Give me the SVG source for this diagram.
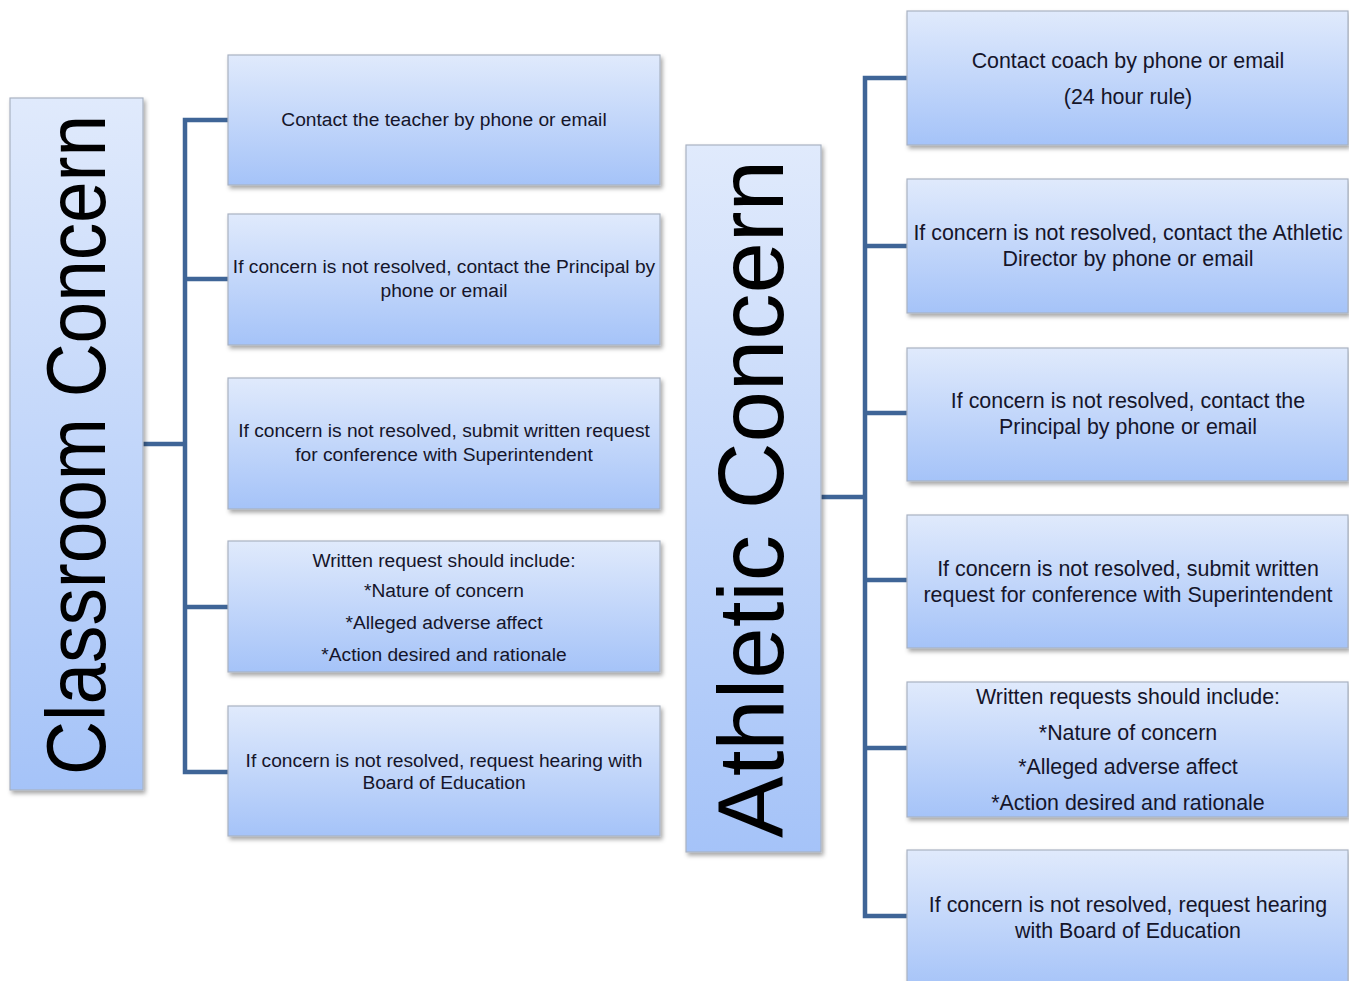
<svg xmlns="http://www.w3.org/2000/svg" width="1349" height="981" viewBox="0 0 1349 981">
<defs>
<linearGradient id="g" x1="0" y1="0" x2="0" y2="1">
<stop offset="0" stop-color="#e0eafc"/>
<stop offset="1" stop-color="#a5c3f8"/>
</linearGradient>
<filter id="sh" x="-5%" y="-5%" width="110%" height="115%">
<feDropShadow dx="2" dy="3" stdDeviation="2" flood-color="#000" flood-opacity="0.35"/>
</filter>
</defs>
<style>
.box{fill:url(#g);stroke:#a9b2c2;stroke-width:1.2;filter:url(#sh)}
.t{font-family:"Liberation Sans",Arial,sans-serif;fill:#15152a;text-anchor:middle}
.l{font-size:19.2px}
.r{font-size:21.4px}
.title{font-family:"Liberation Sans",Arial,sans-serif;fill:#000;text-anchor:middle}
.c{fill:none;stroke:#3f6597;stroke-width:4.5;stroke-linejoin:miter}
</style>
<rect width="1349" height="981" fill="#fff"/>
<g id="connectors">
<path class="c" d="M143 444H185M228 120H185V772H228M185 279H228M185 607H228"/>
<path class="c" d="M821 497H865M907 78H865V916H907M865 246H907M865 413H907M865 580H907M865 748H907"/>
</g>
<g id="classroom">
<rect class="box" x="10" y="98" width="133" height="692"/>
<text class="title" font-size="84" textLength="660" lengthAdjust="spacingAndGlyphs" transform="translate(105 445) rotate(-90)">Classroom Concern</text>
</g>
<g id="c1">
<rect class="box" x="228" y="55" width="432" height="130"/>
<text class="t l" x="444" y="126">Contact the teacher by phone or email</text>
</g>
<g id="c2">
<rect class="box" x="228" y="214" width="432" height="131"/>
<text class="t l" x="444" y="273">If concern is not resolved, contact the Principal by</text>
<text class="t l" x="444" y="297">phone or email</text>
</g>
<g id="c3">
<rect class="box" x="228" y="378" width="432" height="131"/>
<text class="t l" x="444" y="437">If concern is not resolved, submit written request</text>
<text class="t l" x="444" y="461">for conference with Superintendent</text>
</g>
<g id="c4">
<rect class="box" x="228" y="541" width="432" height="131"/>
<text class="t l" x="444" y="567">Written request should include:</text>
<text class="t l" x="444" y="597">*Nature of concern</text>
<text class="t l" x="444" y="629">*Alleged adverse affect</text>
<text class="t l" x="444" y="661">*Action desired and rationale</text>
</g>
<g id="c5">
<rect class="box" x="228" y="706" width="432" height="130"/>
<text class="t l" x="444" y="767">If concern is not resolved, request hearing with</text>
<text class="t l" x="444" y="789">Board of Education</text>
</g>
<g id="athletic">
<rect class="box" x="686" y="145" width="135" height="707"/>
<text class="title" font-size="92" textLength="678" lengthAdjust="spacingAndGlyphs" transform="translate(783 499) rotate(-90)">Athletic Concern</text>
</g>
<g id="a1">
<rect class="box" x="907" y="11" width="441" height="134"/>
<text class="t r" x="1128" y="68">Contact coach by phone or email</text>
<text class="t r" x="1128" y="104">(24 hour rule)</text>
</g>
<g id="a2">
<rect class="box" x="907" y="179" width="441" height="134"/>
<text class="t r" x="1128" y="240">If concern is not resolved, contact the Athletic</text>
<text class="t r" x="1128" y="266">Director by phone or email</text>
</g>
<g id="a3">
<rect class="box" x="907" y="348" width="441" height="133"/>
<text class="t r" x="1128" y="408">If concern is not resolved, contact the</text>
<text class="t r" x="1128" y="434">Principal by phone or email</text>
</g>
<g id="a4">
<rect class="box" x="907" y="515" width="441" height="133"/>
<text class="t r" x="1128" y="576">If concern is not resolved, submit written</text>
<text class="t r" x="1128" y="602">request for conference with Superintendent</text>
</g>
<g id="a5">
<rect class="box" x="907" y="682" width="441" height="135"/>
<text class="t r" x="1128" y="704">Written requests should include:</text>
<text class="t r" x="1128" y="740">*Nature of concern</text>
<text class="t r" x="1128" y="774">*Alleged adverse affect</text>
<text class="t r" x="1128" y="810">*Action desired and rationale</text>
</g>
<g id="a6">
<rect class="box" x="907" y="850" width="441" height="140"/>
<text class="t r" x="1128" y="912">If concern is not resolved, request hearing</text>
<text class="t r" x="1128" y="938">with Board of Education</text>
</g>
</svg>
